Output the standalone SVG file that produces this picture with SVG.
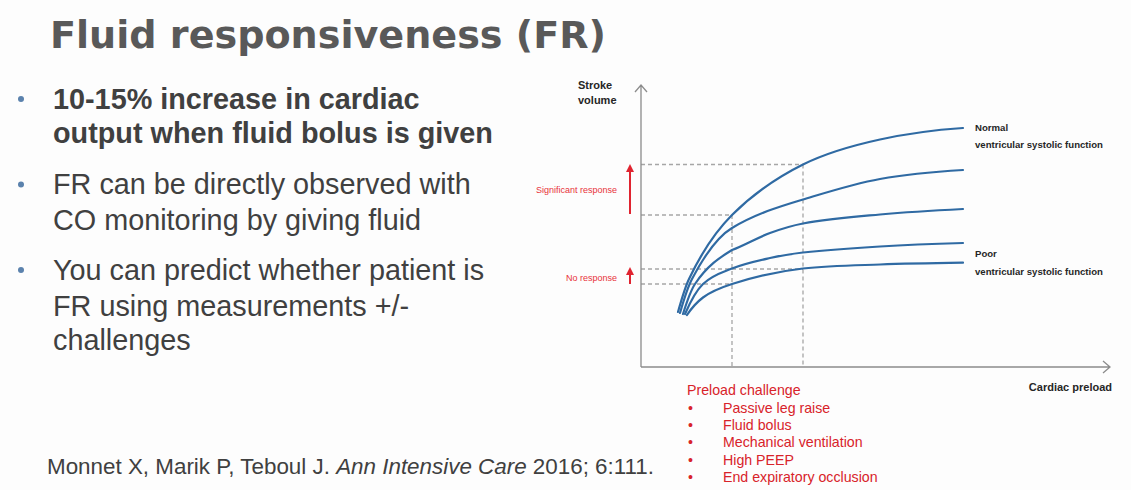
<svg xmlns="http://www.w3.org/2000/svg" width="1131" height="490" viewBox="0 0 1131 490">
<defs>
<style>
.ttl{font-family:"DejaVu Sans",Verdana,sans-serif;font-weight:bold;font-size:37px;fill:#595959}
.b{font-family:"Liberation Sans",Arial,sans-serif;font-size:28.8px;fill:#404040}
.bb{font-weight:bold}
.dot{fill:#5b82ad}
.cite{font-family:"Liberation Sans",Arial,sans-serif;font-size:22.4px;fill:#404040}
.ax{fill:none;stroke:#8c8c8c;stroke-width:1.3}
.dash{fill:none;stroke:#a6a6a6;stroke-width:1.3;stroke-dasharray:4 3}
.crv{fill:none;stroke:#2f6aa3;stroke-width:2.2;stroke-linecap:round}
.lbl{font-family:"Liberation Sans",Arial,sans-serif;font-weight:bold;fill:#262626}
.rs{font-family:"Liberation Sans",Arial,sans-serif;font-size:9px;fill:#e8333b}
.rl{font-family:"Liberation Sans",Arial,sans-serif;font-size:14.2px;fill:#d8232a}
.ra{stroke:#e02430;stroke-width:2;fill:none}
</style>
</defs>
<rect width="1131" height="490" fill="#fdfdfd"/>
<g id="title"><text class="ttl" x="50" y="48" textLength="556" lengthAdjust="spacingAndGlyphs">Fluid responsiveness (FR)</text></g>
<g id="bullet1">
<circle class="dot" cx="21" cy="99" r="3"/>
<text class="b bb" x="53" y="109">10-15% increase in cardiac</text>
<text class="b bb" x="53" y="143">output when fluid bolus is given</text>
</g>
<g id="bullet2">
<circle class="dot" cx="21" cy="184.5" r="3"/>
<text class="b" x="53" y="194">FR can be directly observed with</text>
<text class="b" x="53" y="230">CO monitoring by giving fluid</text>
</g>
<g id="bullet3">
<circle class="dot" cx="21" cy="270" r="3"/>
<text class="b" x="53" y="280">You can predict whether patient is</text>
<text class="b" x="53" y="315.5">FR using measurements +/-</text>
<text class="b" x="53" y="350">challenges</text>
</g>
<g id="citation"><text class="cite" x="47" y="474">Monnet X, Marik P, Teboul J. <tspan font-style="italic">Ann Intensive Care</tspan> 2016; 6:111.</text></g>
<g id="chart-guides">
<path class="dash" d="M641,164.5H803M641,215H732M641,269H803M641,284H732M732,215V367M803,164.5V367"/>
</g>
<g id="connectors">
<path class="ax" d="M641,367V85M635,92L641,85L647,92M641,367H1110M1103,361L1110,367L1103,373"/>
<path class="ra" d="M630,214V171"/>
<polygon points="630,164 626,172 634,172" fill="#e02430"/>
<path class="ra" d="M630,284V274"/>
<polygon points="630,267 626,275 634,275" fill="#e02430"/>
</g>
<g id="curves">
<path id="curve-normal" class="crv" d="M678,312 C681.7,298.8 685.3,286.7 689,279 C703.3,248.9 717.7,229.3 732,215 C755.7,191.3 779.3,176.3 803,164.5 C828.7,151.7 854.3,145.1 880,139.5 C907.7,133.4 935.3,129.9 963,128"/>
<path id="curve-2" class="crv" d="M680,313 C684,299 688,286.6 692,279 C705.3,253.7 718.7,236 732,228 C755.7,213.8 779.3,206.6 803,199.5 C828.7,191.8 854.3,183.6 880,179 C907.7,174 935.3,171.7 963,170"/>
<path id="curve-3" class="crv" d="M683,314 C687,301.2 691,290 695,284 C707.3,265.5 719.7,257.6 732,250 C744.7,245.4 757.3,237.6 770,233 C781,229 792,225.6 803,223.5 C828.7,218.6 854.3,216.8 880,214.5 C907.7,212 935.3,210.4 963,209"/>
<path id="curve-4" class="crv" d="M685,314 C691,300.2 697,289.7 703,284 C712.7,274.8 722.3,272.4 732,268.5 C744.7,263.4 757.3,260.8 770,258 C781,255.6 792,253.7 803,252.5 C828.7,249.7 854.3,248 880,246.5 C907.7,244.8 935.3,243.8 963,243"/>
<path id="curve-poor" class="crv" d="M687,315 C692.3,307 697.7,301.5 703,297.5 C712.7,290.25 722.3,287.1 732,284 C755.7,276.4 779.3,271.1 803,268.5 C828.7,265.7 854.3,265.4 880,264.5 C907.7,263.5 935.3,263.1 963,262.7"/>
</g>
<g id="axis-labels">
<text class="lbl" font-size="11" x="578" y="89">Stroke</text>
<text class="lbl" font-size="11" x="578" y="104">volume</text>
<text class="lbl" font-size="11" x="1112" y="391" text-anchor="end">Cardiac preload</text>
</g>
<g id="curve-labels">
<text class="lbl" font-size="9.6" x="975" y="131">Normal</text>
<text class="lbl" font-size="9.6" x="975" y="148">ventricular systolic function</text>
<text class="lbl" font-size="9.6" x="975" y="257">Poor</text>
<text class="lbl" font-size="9.6" x="975" y="275">ventricular systolic function</text>
</g>
<g id="response-labels">
<text class="rs" x="617" y="193" text-anchor="end">Significant response</text>
<text class="rs" x="617" y="281" text-anchor="end">No response</text>
</g>
<g id="preload-challenge">
<text class="rl" x="687" y="395">Preload challenge</text>
<text class="rl" x="688" y="413">•</text><text class="rl" x="723" y="413">Passive leg raise</text>
<text class="rl" x="688" y="430">•</text><text class="rl" x="723" y="430">Fluid bolus</text>
<text class="rl" x="688" y="447">•</text><text class="rl" x="723" y="447">Mechanical ventilation</text>
<text class="rl" x="688" y="464.5">•</text><text class="rl" x="723" y="464.5">High PEEP</text>
<text class="rl" x="688" y="482">•</text><text class="rl" x="723" y="482">End expiratory occlusion</text>
</g>
</svg>
